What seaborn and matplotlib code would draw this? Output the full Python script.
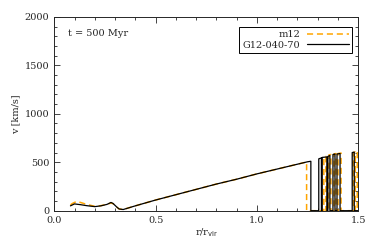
import matplotlib
matplotlib.use("Agg")
import matplotlib.pyplot as plt
import seaborn as sns
import numpy as np
import pandas as pd
from matplotlib.ticker import MultipleLocator

# G12-040-70 (solid black)
g12_r = [0.08, 0.09, 0.10, 0.13, 0.16, 0.20, 0.23, 0.26, 0.28, 0.29, 0.30, 0.31, 0.32, 0.34,
         0.40, 0.50, 0.60, 0.70, 0.80, 0.90, 1.00, 1.10, 1.20, 1.25,
         1.266, 1.266, 1.305, 1.305, 1.318, 1.318, 1.322, 1.322, 1.345, 1.345,
         1.35, 1.35, 1.36, 1.36, 1.375, 1.375, 1.385, 1.385, 1.395, 1.395, 1.41, 1.41,
         1.47, 1.47, 1.48, 1.48, 1.5]
g12_v = [50, 60, 70, 62, 52, 42, 50, 65, 85, 75, 55, 35, 18, 12,
         50, 110, 165, 220, 275, 325, 380, 430, 480, 505,
         510, 0, 0, 535, 545, 0, 0, 550, 555, 0,
         0, 560, 570, 0, 0, 580, 585, 0, 0, 585, 590, 0,
         0, 600, 605, 0, 0]

# m12 (dashed orange)
m12_r = [0.08, 0.09, 0.11, 0.13, 0.16, 0.20, 0.23, 0.26, 0.28, 0.29, 0.30, 0.31, 0.32, 0.34,
         0.40, 0.50, 0.60, 0.70, 0.80, 0.90, 1.00, 1.10, 1.20, 1.24,
         1.245, 1.245, 1.33, 1.33, 1.34, 1.34, 1.355, 1.355, 1.365, 1.365,
         1.38, 1.38, 1.39, 1.39, 1.40, 1.40, 1.415, 1.415, 1.475, 1.475, 1.485, 1.485,
         1.495, 1.495, 1.5]
m12_v = [60, 75, 95, 85, 65, 45, 52, 65, 80, 72, 55, 35, 18, 12,
         50, 110, 165, 220, 275, 325, 380, 430, 480, 500,
         500, 0, 0, 550, 560, 0, 0, 575, 580, 0,
         0, 585, 590, 0, 0, 590, 595, 0, 0, 600, 605, 0,
         0, 615, 615]

df = pd.concat([
    pd.DataFrame({"r": m12_r, "v": m12_v, "run": "m12"}),
    pd.DataFrame({"r": g12_r, "v": g12_v, "run": "G12-040-70"}),
])

sns.set_style("ticks")
plt.rcParams["font.family"] = ["DejaVu Serif"]
plt.rcParams["font.size"] = 7

fig = plt.figure(figsize=(3.74, 2.45), dpi=100)
ax = fig.add_axes([0.145, 0.140, 0.813, 0.791])

sns.lineplot(data=df[df.run == "m12"], x="r", y="v", sort=False, estimator=None,
             color="#ffa500", lw=1.1, ls=(0, (4, 2.5)), ax=ax, label="m12")
sns.lineplot(data=df[df.run == "G12-040-70"], x="r", y="v", sort=False, estimator=None,
             color="black", lw=0.9, ax=ax, label="G12-040-70")

ax.set_xlim(0, 1.5)
ax.set_ylim(0, 2000)
ax.xaxis.set_major_locator(MultipleLocator(0.5))
ax.xaxis.set_minor_locator(MultipleLocator(0.1))
ax.yaxis.set_major_locator(MultipleLocator(500))
ax.yaxis.set_minor_locator(MultipleLocator(100))
ax.xaxis.set_major_formatter(matplotlib.ticker.FormatStrFormatter("%.1f"))
ax.tick_params(which="both", direction="in", top=True, right=True, labelsize=7, width=0.6)
ax.tick_params(which="major", length=4)
ax.tick_params(which="minor", length=2)
for s in ax.spines.values():
    s.set_linewidth(0.7)

ax.set_xlabel(r"r/r$_{\rm vir}$", fontsize=7, labelpad=1)
ax.set_ylabel("v [km/s]", fontsize=7, labelpad=3)
ax.text(0.045, 0.915, "t = 500 Myr", transform=ax.transAxes, fontsize=7, va="center")

leg = ax.legend(loc="upper right", markerfirst=False, fontsize=7, frameon=True,
                fancybox=False, edgecolor="black", framealpha=1, handlelength=4.3,
                borderpad=0.35, labelspacing=0.15, handletextpad=0.7,
                borderaxespad=0, bbox_to_anchor=(0.98, 0.948))
leg.get_frame().set_linewidth(0.7)

fig.savefig("out.png", dpi=100)
